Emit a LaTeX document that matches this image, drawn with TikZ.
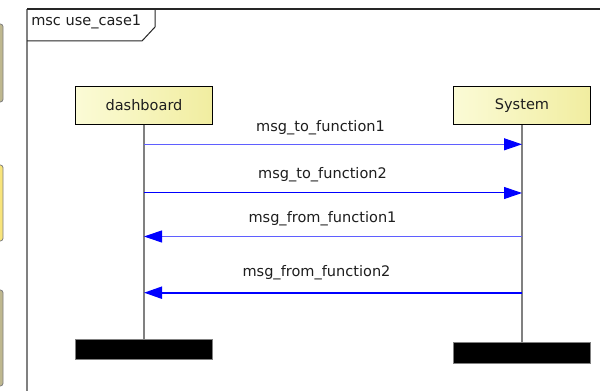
\documentclass[tikz,border=0pt]{standalone}
\usepackage{fontspec}
\setmainfont{DejaVu Sans}
\usetikzlibrary{arrows.meta}
\definecolor{boxlight}{RGB}{251,251,214}
\definecolor{boxdark}{RGB}{241,237,160}
\definecolor{lifegray}{RGB}{128,128,128}
\definecolor{lightblue}{RGB}{95,95,255}
\definecolor{tanfill}{RGB}{190,183,142}
\definecolor{yelfill}{RGB}{248,228,122}
\definecolor{txt}{RGB}{30,30,30}
\begin{document}
\begin{tikzpicture}[x=0.75pt,y=-0.75pt,
  actor/.style={draw=black, line width=0.75pt, shading=axis, shading angle=60,
    left color=boxlight, right color=boxdark,
    minimum width=102.75pt, minimum height=28.5pt, inner sep=0pt, text=txt,
    font=\fontsize{10.9}{13}\selectfont},
  endbar/.style={draw=lifegray, fill=black, line width=0.6pt, minimum width=103pt,
    minimum height=15.5pt, inner sep=0pt},
  lifeline/.style={draw=lifegray, line width=1pt},
  lbl/.style={text=txt, font=\fontsize{10.9}{13}\selectfont, inner sep=0pt},
  tip/.style={-{Triangle[length=13.5pt,width=9pt,fill=blue,color=blue]}},
  msgthin/.style={tip, draw=lightblue, line width=0.75pt},
  msgmid/.style={tip, draw=blue, line width=0.75pt},
  msgthick/.style={tip, draw=blue, line width=1.5pt},
  sliver/.style={draw=lifegray, line width=0.6pt, rounded corners=2pt}]
\useasboundingbox (0,0) rectangle (600,391);
\fill[white] (0,0) rectangle (600,391);

% partial shapes at the left edge
\draw[sliver, fill=tanfill] (-10,24) rectangle (3,102);
\draw[sliver, fill=yelfill] (-10,165) rectangle (3,241);
\draw[sliver, fill=tanfill] (-10,290) rectangle (3,386);

% frame
\draw[lifegray, line width=1pt] (27,9) -- (27,395);
\draw[black!85, line width=1.3pt] (27,9) -- (602,9);
\draw[black!85, line width=0.75pt] (155,9) -- (155,27) -- (142,41) -- (27,41);
\node[lbl, anchor=west] (title) at (31,22) {msc use\_case1};

% actors
\node[actor] (dash) at (144,105.5) {dashboard};
\node[actor] (sys) at (522,105.5) {System};

% end bars
\node[endbar] (dashend) at (144,349.5) {};
\node[endbar] (sysend) at (522,353) {};

% lifelines
\draw[lifeline] (dash.south) -- (dashend.north);
\draw[lifeline] (sys.south) -- (sysend.north);

% message anchor points
\coordinate (d1) at (144,144.3);
\coordinate (s1) at (522,144.3);
\coordinate (d2) at (144,193);
\coordinate (s2) at (522,193);
\coordinate (d3) at (144,236.5);
\coordinate (s3) at (522,236.5);
\coordinate (d4) at (144,292.7);
\coordinate (s4) at (522,292.7);

\draw[msgthin] (d1) -- (s1);
\draw[msgmid] (d2) -- (s2);
\draw[msgthin] (s3) -- (d3);
\draw[msgthick] (s4) -- (d4);

\node[lbl] (l1) at (320.5,128) {msg\_to\_function1};
\node[lbl] (l2) at (322.5,175) {msg\_to\_function2};
\node[lbl] (l3) at (322.5,219) {msg\_from\_function1};
\node[lbl] (l4) at (316.5,273) {msg\_from\_function2};
\end{tikzpicture}
\end{document}
